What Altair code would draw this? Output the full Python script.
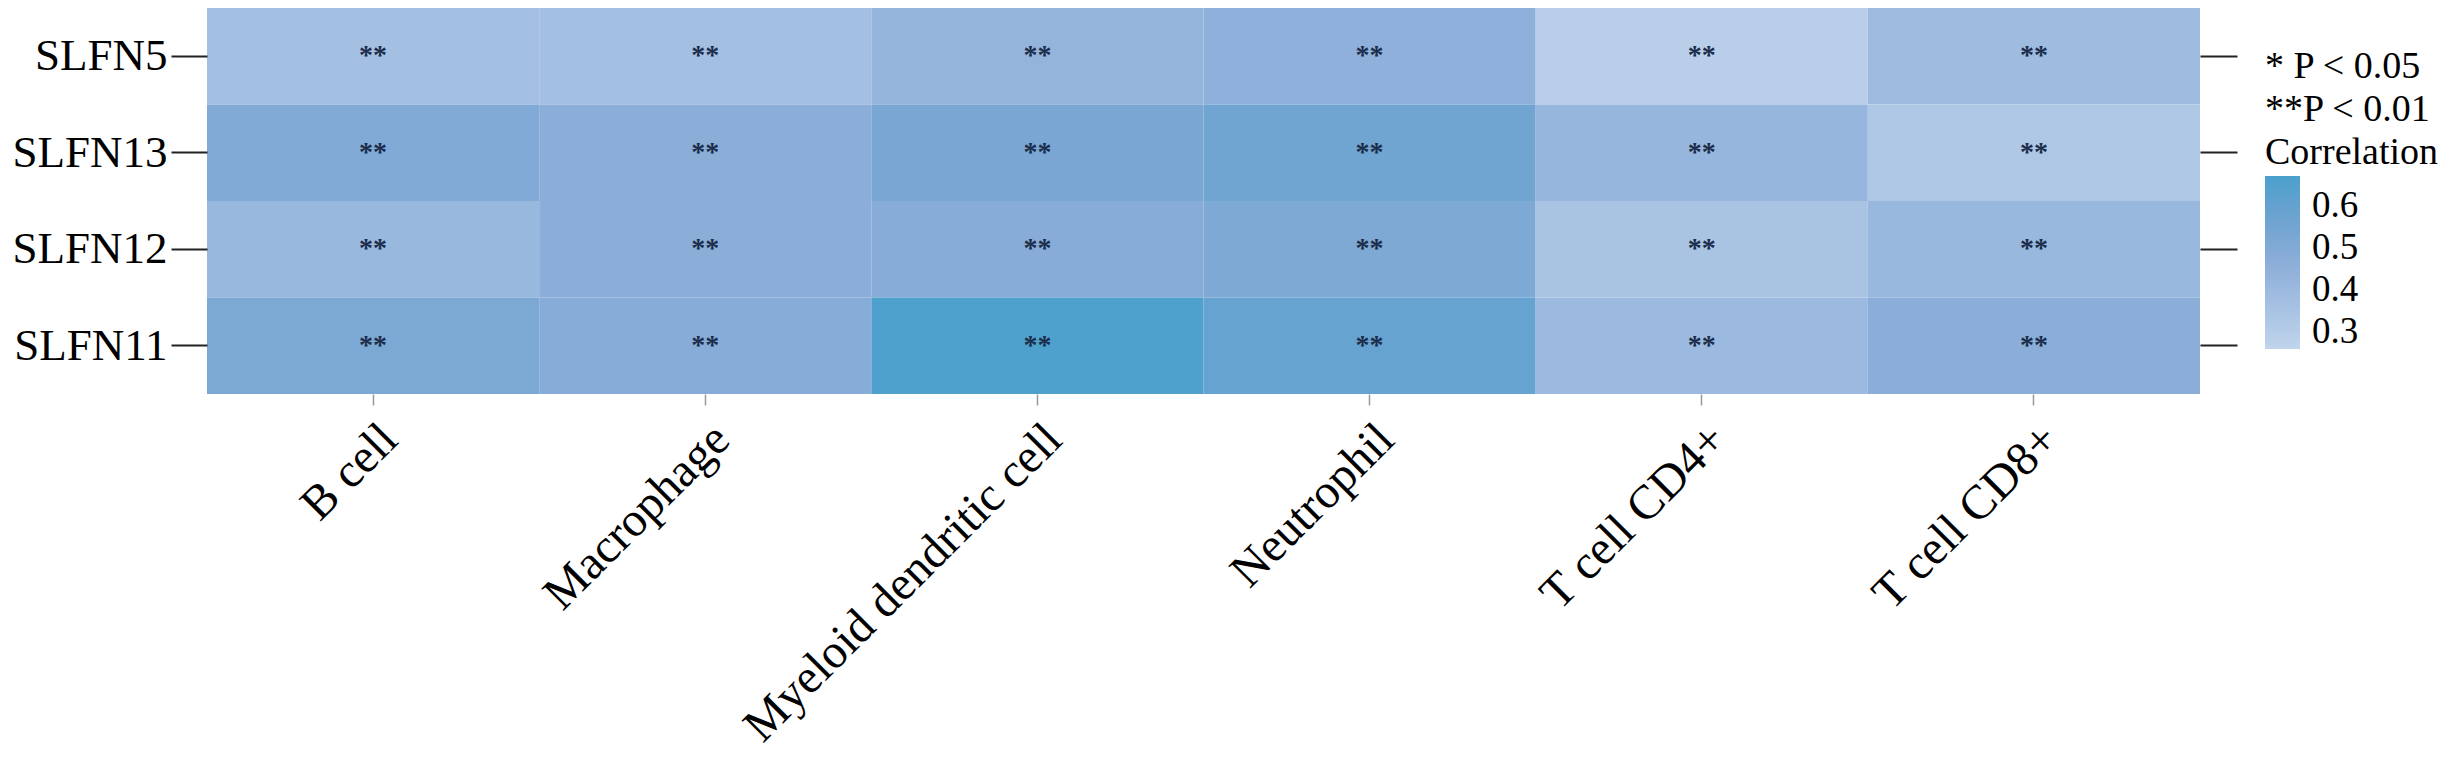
import altair as alt
import pandas as pd

genes = ["SLFN5", "SLFN13", "SLFN12", "SLFN11"]
cells = ["B cell", "Macrophage", "Myeloid dendritic cell", "Neutrophil", "T cell CD4+", "T cell CD8+"]
corr_slfn5 = [0.37, 0.37, 0.43, 0.45, 0.29, 0.39]
corr_slfn13 = [0.50, 0.47, 0.53, 0.56, 0.42, 0.33]
corr_slfn12 = [0.41, 0.47, 0.48, 0.51, 0.35, 0.41]
corr_slfn11 = [0.52, 0.48, 0.66, 0.59, 0.40, 0.47]
signif = ["**"] * 6
legend_lines = ["* P < 0.05", "**P < 0.01", "Correlation"]
legend_ticks = [0.3, 0.4, 0.5, 0.6]

rows = []
for g, vals in zip(genes, [corr_slfn5, corr_slfn13, corr_slfn12, corr_slfn11]):
    for c, v, s in zip(cells, vals, signif):
        rows.append({"gene": g, "cell": c, "corr": v, "sig": s})
df = pd.DataFrame(rows)

FONT = "Liberation Serif"

x_enc = alt.X(
    "cell:N",
    sort=cells,
    title=None,
    axis=alt.Axis(
        labelAngle=-45,
        labelFontSize=48,
        labelFont=FONT,
        labelColor="black",
        tickSize=11,
        tickColor="#999999",
        tickWidth=1.5,
        labelPadding=10,
        domain=False,
        labelLimit=900,
    ),
)

color_scale = alt.Scale(
    domain=[0.26, 0.45, 0.55, 0.67],
    range=["#c0d4ec", "#8fb0da", "#73a4d1", "#4aa0cc"],
)

rect = alt.Chart(df).mark_rect().encode(
    x=x_enc,
    y=alt.Y(
        "gene:N",
        sort=genes,
        title=None,
        axis=alt.Axis(
            orient="left",
            labelFontSize=45,
            labelFont=FONT,
            labelColor="black",
            tickSize=36,
            tickColor="#222222",
            tickWidth=2,
            labelPadding=4,
            domain=False,
        ),
    ),
    color=alt.Color(
        "corr:Q",
        scale=color_scale,
        legend=alt.Legend(
            orient="none",
            legendX=2058,
            legendY=40,
            direction="vertical",
            title=legend_lines,
            titleFont=FONT,
            titleFontSize=38,
            titleFontWeight="normal",
            titleColor="black",
            titleLineHeight=43,
            titleAlign="left",
            titlePadding=4,
            gradientLength=173,
            gradientThickness=35,
            gradientStrokeWidth=0,
            labelFont=FONT,
            labelFontSize=37,
            labelColor="black",
            labelOffset=12,
            values=legend_ticks,
            format=".1f",
        ),
    ),
)

text = alt.Chart(df).mark_text(
    font=FONT, fontSize=28, fontWeight="bold", color="#1b2d4a", baseline="middle"
).encode(
    x=x_enc,
    y=alt.Y(
        "gene:N",
        sort=genes,
        title=None,
        axis=alt.Axis(
            orient="right",
            labels=False,
            tickSize=37,
            tickColor="#222222",
            tickWidth=2,
            domain=False,
        ),
    ),
    text="sig:N",
)

chart = (
    alt.layer(rect, text)
    .resolve_axis(y="independent")
    .properties(
        width=1993,
        height=386,
        autosize=alt.AutoSizeParams(type="none"),
        padding={"left": 199, "top": 0, "right": 248, "bottom": 357},
    )
    .configure_view(stroke=None)
)

chart.save("out.html", embed_options={"renderer": "svg", "actions": False})
